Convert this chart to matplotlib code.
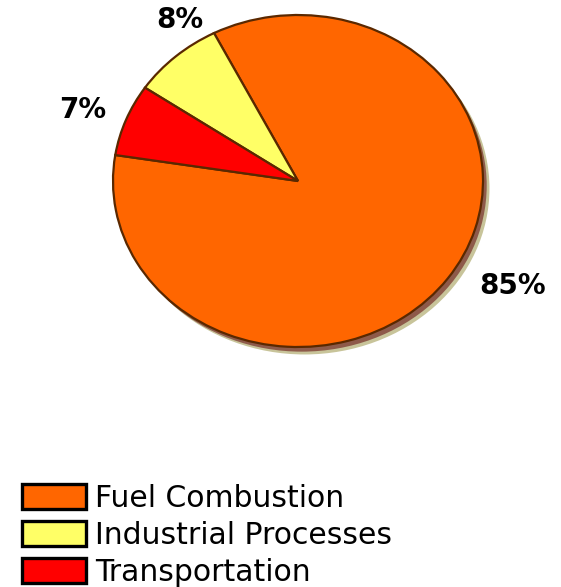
import numpy as np
import matplotlib
matplotlib.use("Agg")
import matplotlib.pyplot as plt
from matplotlib.patches import Patch, Ellipse

categories = ["Fuel Combustion", "Industrial Processes", "Transportation"]
values = [85, 8, 7]
labels = ["85%", "8%", "7%"]
colors = ["#FF6600", "#FFFF66", "#FF0000"]

W, H = 561, 587
fig = plt.figure(figsize=(W / 100, H / 100), dpi=100)
fig.patch.set_facecolor("white")

cx, cy, rx, ry = 298, 181, 185, 166
ax = fig.add_axes([(cx - rx) / W, (H - (cy + ry)) / H, 2 * rx / W, 2 * ry / H])

# shadow
ax.add_patch(Ellipse((0.035, -0.045), 2, 2, facecolor="#C8C49A", edgecolor="none",
                     zorder=0, clip_on=False))
ax.add_patch(Ellipse((0.02, -0.028), 2, 2, facecolor="#8E5A4A", edgecolor="none",
                     zorder=0.5, clip_on=False))

wedges, _ = ax.pie(values, colors=colors, startangle=171, counterclock=True,
                   radius=1.0, center=(0, 0), frame=True,
                   wedgeprops=dict(edgecolor="#5A2800", linewidth=1.6, clip_on=False))
ax.set_xlim(-1, 1)
ax.set_ylim(-1, 1)
ax.set_aspect("auto")
ax.axis("off")

# label placement (radius, angle offset in degrees)
label_pos = [(1.32, 7.5), (1.16, -8), (1.24, 1.5)]
for w, lab, (r, dang) in zip(wedges, labels, label_pos):
    ang = np.deg2rad((w.theta1 + w.theta2) / 2 + dang)
    ax.text(r * np.cos(ang), r * np.sin(ang), lab, ha="center", va="center",
            fontsize=20, fontweight="bold", family="DejaVu Sans", color="black",
            clip_on=False)

handles = [Patch(facecolor=c, edgecolor="black", linewidth=2.4) for c in colors]
fig.legend(handles, categories, loc="upper left", bbox_to_anchor=(22 / W, 1 - 484 / H),
           frameon=False, fontsize=21.5, handlelength=2.15, handleheight=0.9,
           handletextpad=0.3, labelspacing=0.26, borderpad=0, borderaxespad=0)

fig.savefig("out.png", dpi=100, facecolor="white")
